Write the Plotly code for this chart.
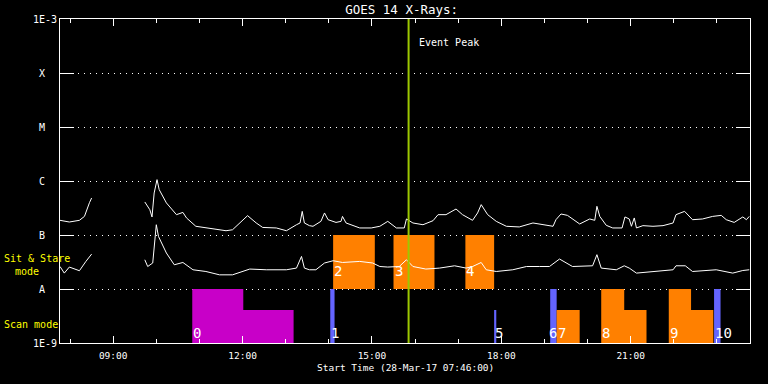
import plotly.graph_objects as go
import math

DAY = "2017-03-28 "

# ---- GOES long channel (1-8 A), upper curve ----
long_times = ["07:46","07:59","08:13","08:20","08:27","08:30", None,
              "09:44","09:51","09:54","09:57","10:01","10:04","10:14","10:28","10:37","10:42",
              "10:55","11:09","11:23","11:37","11:46","11:53","12:07","12:19","12:28","12:47",
              "13:01","13:15","13:20","13:23","13:26","13:33","13:38","13:49","13:54","13:59",
              "14:10","14:17","14:19","14:24","14:43","14:59","15:11","15:22","15:34","15:45",
              "15:48","15:57","16:11","16:25","16:32","16:43","16:57","17:06","17:20","17:27",
              "17:32","17:41","17:53","18:07","18:25","18:44","18:58","19:12","19:16","19:23",
              "19:32","19:49","20:03","20:10","20:13","20:17","20:26","20:35","20:48","20:52",
              "20:58","21:01","21:05","21:08","21:17","21:31","21:45","21:59","22:03","22:15",
              "22:26","22:40","22:54","23:06","23:13","23:24","23:36","23:41","23:45"]
long_flux = [1.87e-7,1.74e-7,1.87e-7,2.21e-7,3.97e-7,4.85e-7, None,
             4.09e-7,2.94e-7,2.16e-7,6.0e-7,1.06e-6,6.92e-7,3.93e-7,2.38e-7,2.62e-7,2.07e-7,
             1.45e-7,1.35e-7,1.29e-7,1.20e-7,1.25e-7,1.55e-7,2.28e-7,1.67e-7,1.38e-7,1.35e-7,
             1.20e-7,1.55e-7,1.67e-7,2.74e-7,1.67e-7,1.49e-7,1.45e-7,1.79e-7,2.56e-7,1.92e-7,
             1.71e-7,1.79e-7,2.21e-7,1.67e-7,1.35e-7,1.35e-7,1.45e-7,1.79e-7,1.35e-7,1.35e-7,
             1.98e-7,1.67e-7,1.55e-7,1.84e-7,2.38e-7,2.38e-7,3.03e-7,2.38e-7,1.87e-7,2.56e-7,
             3.65e-7,2.38e-7,1.79e-7,1.45e-7,1.41e-7,1.67e-7,1.55e-7,1.45e-7,1.92e-7,2.45e-7,
             2.31e-7,1.60e-7,1.98e-7,1.87e-7,3.40e-7,2.21e-7,1.51e-7,1.35e-7,1.35e-7,2.16e-7,
             1.98e-7,1.45e-7,2.07e-7,1.35e-7,1.49e-7,1.45e-7,1.49e-7,1.67e-7,2.38e-7,2.74e-7,
             1.92e-7,1.98e-7,2.21e-7,2.31e-7,1.92e-7,1.71e-7,2.16e-7,1.92e-7,2.21e-7]

# ---- GOES short channel (0.5-4 A), lower curve ----
short_times = ["07:46","07:52","07:59","08:06","08:13","08:22","08:30", None,
               "09:44","09:48","09:55","09:57","10:00","10:03","10:14","10:25","10:37","10:51",
               "11:09","11:28","11:46","12:10","12:33","13:01","13:15","13:22","13:26","13:33",
               "13:42","13:54","14:06","14:19","14:43","15:01","15:11","15:22","15:38","15:48",
               "15:57","16:15","16:34","16:55","17:11","17:20","17:32","17:39","17:53","18:16",
               "18:35","18:53","19:07","19:21","19:39","20:07","20:13","20:19","20:40","20:51",
               "20:58","21:08","21:35","21:59","22:03","22:16","22:26","22:59","23:22","23:36","23:45"]
short_flux = [2.61e-8,1.97e-8,2.55e-8,2.34e-8,2.18e-8,3.24e-8,4.43e-8, None,
              3.48e-8,2.61e-8,3.03e-8,6.14e-8,1.55e-7,9.42e-8,4.64e-8,2.81e-8,3.10e-8,2.27e-8,
              2.11e-8,1.83e-8,1.83e-8,2.34e-8,2.27e-8,2.27e-8,2.44e-8,4.01e-8,2.44e-8,2.27e-8,
              2.27e-8,3.03e-8,3.34e-8,3.10e-8,3.24e-8,3.03e-8,2.61e-8,2.55e-8,2.61e-8,3.48e-8,
              2.61e-8,2.34e-8,2.44e-8,2.69e-8,2.44e-8,2.61e-8,3.10e-8,2.27e-8,2.11e-8,2.27e-8,
              2.61e-8,2.61e-8,2.61e-8,3.59e-8,2.61e-8,2.69e-8,4.32e-8,2.44e-8,2.27e-8,2.69e-8,
              2.44e-8,1.97e-8,2.11e-8,2.27e-8,2.69e-8,2.69e-8,2.11e-8,2.27e-8,1.97e-8,2.20e-8,2.27e-8]

# ---- Observation blocks ----
obs_labels   = ["0","1","2","3","4","5","6","7","8","9","10"]
obs_start    = ["10:50","14:02","14:06","15:30","17:10","17:50","19:08","19:17","20:19","21:53","22:56"]
obs_full_end = ["12:01","14:08","15:04","16:27","17:50","17:50","19:17","19:17","20:51","22:24","23:05"]
obs_end      = ["13:11","14:08","15:04","16:27","17:50","17:53","19:17","19:49","21:22","22:55","23:05"]
obs_mode     = ["scan","scan","stare","stare","stare","scan","scan","scan","scan","scan","scan"]
obs_kind     = ["P","B","O","O","O","B","B","O","O","O","B"]

event_peak = "15:51"
y_tick_vals = [1e-9, 1e-8, 1e-7, 1e-6, 1e-5, 1e-4, 1e-3]
y_tick_text = ["1E-9", "A", "B", "C", "M", "X", "1E-3"]

KIND_COLOR = {"P": "#c800c8", "B": "#6464ff", "O": "#ff8000"}
MONO = "DejaVu Sans Mono"
LEVELS = {"scan": (1e-9, 1e-8, 4.1e-9), "stare": (1e-8, 1e-7, 1e-7)}
LABEL_Y = {"scan": math.log10(1.53e-9), "stare": math.log10(2.11e-8)}
LABEL_NUDGE = {"6": -2, "7": 0}

def t(s):
    return None if s is None else DAY + s

fig = go.Figure()

for lab, s, f, e, m, k in zip(obs_labels, obs_start, obs_full_end, obs_end, obs_mode, obs_kind):
    base, full, part = LEVELS[m]
    fig.add_trace(go.Scatter(
        x=[t(s), t(s), t(f), t(f), t(e), t(e)],
        y=[base, full, full, part, part, base],
        fill="toself", fillcolor=KIND_COLOR[k], mode="lines",
        line=dict(width=0, color=KIND_COLOR[k]), hoverinfo="skip", showlegend=False))
    fig.add_annotation(x=t(s), y=LABEL_Y[m], xref="x", yref="y", text=lab,
                       showarrow=False, xanchor="left", yanchor="middle",
                       xshift=LABEL_NUDGE.get(lab, 0), borderpad=0,
                       font=dict(family=MONO, size=14, color="white"))

fig.add_trace(go.Scatter(x=[t(v) for v in long_times], y=long_flux, mode="lines",
                         line=dict(color="white", width=1), connectgaps=False, showlegend=False))
fig.add_trace(go.Scatter(x=[t(v) for v in short_times], y=short_flux, mode="lines",
                         line=dict(color="white", width=1), connectgaps=False, showlegend=False))
fig.add_trace(go.Scatter(x=[t(event_peak), t(event_peak)], y=[1e-9, 1e-3], mode="lines",
                         line=dict(color="#9cc800", width=2), showlegend=False))

fig.add_annotation(x=t(event_peak), y=0.927, xref="x", yref="paper", text="Event Peak",
                   showarrow=False, xanchor="left", yanchor="middle", xshift=8,
                   font=dict(family=MONO, size=10, color="white"))
fig.add_annotation(x=0.5, y=-0.077, xref="paper", yref="paper",
                   text="Start Time (28-Mar-17 07:46:00)", showarrow=False,
                   xanchor="center", yanchor="middle",
                   font=dict(family=MONO, size=9.5, color="white"))
# yellow mode labels (pixel positions converted to paper coords)
for txt, xpx, ypx in [("Sit & Stare", 1.7, 258.5), ("mode", 12.7, 271), ("Scan mode", 1.7, 324)]:
    fig.add_annotation(x=(xpx - 60) / 690, y=(343 - ypx) / 324, xref="paper", yref="paper",
                       text=txt, showarrow=False, xanchor="left", yanchor="middle",
                       font=dict(family=MONO, size=10, color="#ffff00"))

fig.update_layout(
    width=768, height=384,
    margin=dict(l=60, r=18, t=19, b=41),
    paper_bgcolor="black", plot_bgcolor="black",
    font=dict(family=MONO, color="white", size=10),
    title=dict(text="GOES 14 X-Rays:", x=0.523, xref="container", xanchor="center",
               y=1 - 10 / 384, yref="container", yanchor="middle",
               font=dict(family=MONO, size=12.5, color="white")),
    showlegend=False,
)
fig.update_xaxes(
    type="date", range=[DAY + "07:46", DAY + "23:46"],
    tickmode="linear", tick0=DAY + "00:00", dtick=3 * 3600000, tickformat="%H:%M",
    ticks="inside", ticklen=7, tickcolor="white", tickwidth=1,
    minor=dict(ticks="inside", ticklen=4, tickcolor="white", dtick=3600000,
               tick0=DAY + "00:00", showgrid=False),
    showline=True, linecolor="white", linewidth=1, mirror="allticks",
    showgrid=False, zeroline=False, ticklabelstandoff=4,
    tickfont=dict(family=MONO, size=9.5, color="white"),
)
fig.update_yaxes(
    type="log", range=[-9, -3],
    tickmode="array", tickvals=y_tick_vals,
    ticktext=[s if s.startswith("1E") else s + "\u00a0\u00a0" for s in y_tick_text],
    ticks="inside", ticklen=14, tickcolor="white", tickwidth=1,
    showline=True, linecolor="white", linewidth=1, mirror="allticks",
    showgrid=True, gridcolor="white", gridwidth=1, griddash="1px,5px",
    zeroline=False,
    tickfont=dict(family=MONO, size=10, color="white"),
)

fig.write_html("out.html", config={"displayModeBar": False},
               post_script="document.body.style.margin='0';document.body.style.padding='0';")
